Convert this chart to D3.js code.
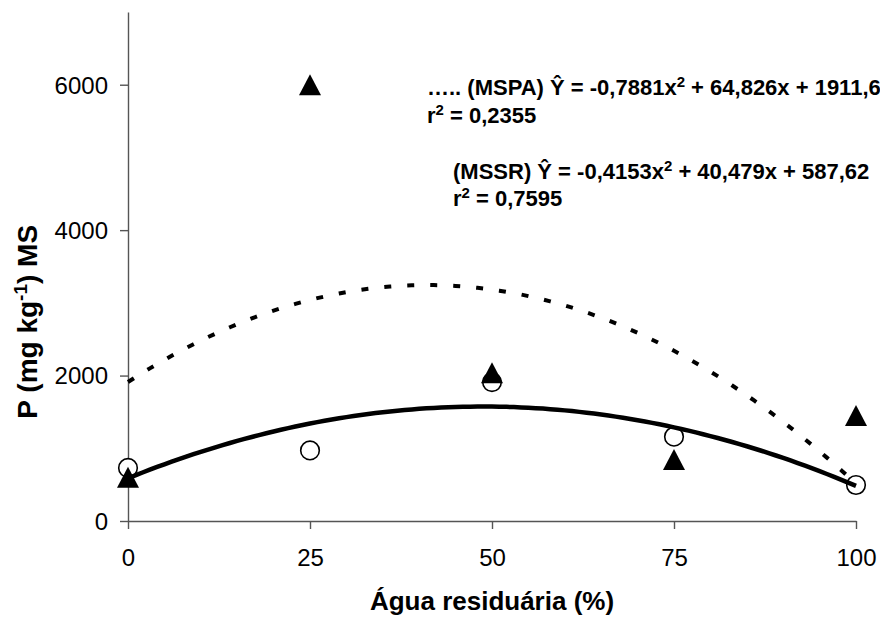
<!DOCTYPE html>
<html>
<head>
<meta charset="utf-8">
<script src="https://cdn.jsdelivr.net/npm/d3@7"></script>
<style>
  body { margin: 0; background: #fff; }
  text { font-family: "Liberation Sans", Arial, sans-serif; }
</style>
</head>
<body>
<div id="viscontainer"></div>
<script>
const doses = [0, 25, 50, 75, 100];
const mspaValues = [600, 6000, 2040, 845, 1450];
const mssrValues = [730, 970, 1910, 1160, 495];
// trendline coefficients [a, b, c] for a*x^2 + b*x + c
const mspaFit = [-0.7881, 64.826, 1911.6];
const mssrFit = [-0.4153, 40.479, 587.62];
const xTicks = [0, 25, 50, 75, 100];
const yTicks = [0, 2000, 4000, 6000];

function makeVis() {
  const width = 880;
  const height = 621;
  const marginLeft = 128;
  const marginRight = 24;
  const marginTop = 12;
  const marginBottom = 100;

  const svg = d3.create("svg").attr("width", width).attr("height", height);
  viscontainer.append(svg.node());

  const xScale = d3.scaleLinear().domain([0, 100]).range([marginLeft, width - marginRight]);
  const yScale = d3.scaleLinear().domain([0, 7000]).range([height - marginBottom, marginTop]);

  // axes
  const xAxis = svg.append("g")
    .attr("transform", `translate(0, ${yScale(0)})`)
    .call(d3.axisBottom(xScale).tickValues(xTicks).tickSize(8).tickPadding(20).tickSizeOuter(0));
  const yAxis = svg.append("g")
    .attr("transform", `translate(${xScale(0)}, 0)`)
    .call(d3.axisLeft(yScale).tickValues(yTicks).tickFormat(d3.format("d"))
      .tickSize(8).tickPadding(12).tickSizeOuter(0));

  [xAxis, yAxis].forEach((ax) => {
    ax.selectAll("path, line").attr("stroke", "#555").attr("stroke-width", 1.4);
    ax.selectAll("text").attr("font-size", 24).attr("fill", "#000")
      .style("font-family", '"Liberation Sans", Arial, sans-serif');
  });
  yAxis.selectAll("text").attr("dy", "0.35em");

  // axis titles
  svg.append("text")
    .attr("x", xScale(50))
    .attr("y", 610)
    .attr("text-anchor", "middle")
    .attr("font-size", 26)
    .attr("font-weight", "bold")
    .text("Água residuária (%)");

  const yTitle = svg.append("text")
    .attr("transform", `translate(37, ${yScale(2740)}) rotate(-90)`)
    .attr("text-anchor", "middle")
    .attr("font-size", 28)
    .attr("font-weight", "bold");
  yTitle.append("tspan").text("P (mg kg");
  yTitle.append("tspan").attr("font-size", 19).attr("baseline-shift", "super").text("-1");
  yTitle.append("tspan").text(") MS");

  // trendlines
  const xs = d3.range(0, 100.01, 1);
  const poly = (c) => (x) => c[0] * x * x + c[1] * x + c[2];
  const line = d3.line().x((d) => xScale(d[0])).y((d) => yScale(d[1]));

  // markers
  svg.append("g").selectAll("circle")
    .data(doses.map((d, i) => [d, mssrValues[i]]))
    .join("circle")
    .attr("cx", (d) => xScale(d[0]))
    .attr("cy", (d) => yScale(d[1]))
    .attr("r", 9.3)
    .attr("fill", "#fff")
    .attr("stroke", "#000")
    .attr("stroke-width", 1.6);

  svg.append("path")
    .datum(xs.map((x) => [x, poly(mssrFit)(x)]))
    .attr("d", line)
    .attr("fill", "none")
    .attr("stroke", "#000")
    .attr("stroke-width", 4.5);

  svg.append("path")
    .datum(xs.map((x) => [x, poly(mspaFit)(x)]))
    .attr("d", line)
    .attr("fill", "none")
    .attr("stroke", "#000")
    .attr("stroke-width", 4)
    .attr("stroke-dasharray", "7 16");

  // triangle marker, 22 wide and 21 tall, centred on its box
  const triangle = {
    draw(ctx) {
      ctx.moveTo(0, -10.5);
      ctx.lineTo(11, 10.5);
      ctx.lineTo(-11, 10.5);
      ctx.closePath();
    }
  };
  svg.append("g").selectAll("path")
    .data(doses.map((d, i) => [d, mspaValues[i]]))
    .join("path")
    .attr("transform", (d) => `translate(${xScale(d[0])}, ${yScale(d[1])})`)
    .attr("d", d3.symbol().type(triangle))
    .attr("fill", "#000");

  // equations
  const eqs = [
    { x: 427, y: 95, parts: ["….. (MSPA) Ŷ = -0,7881x", "2", " + 64,826x + 1911,6"] },
    { x: 427, y: 123, parts: ["r", "2", " = 0,2355"] },
    { x: 453, y: 179, parts: ["(MSSR) Ŷ = -0,4153x", "2", " + 40,479x + 587,62"] },
    { x: 453, y: 206, parts: ["r", "2", " = 0,7595"] },
  ];
  eqs.forEach((e) => {
    const t = svg.append("text")
      .attr("x", e.x)
      .attr("y", e.y)
      .attr("font-size", 22)
      .attr("font-weight", "bold");
    e.parts.forEach((p, i) => {
      const s = t.append("tspan").text(p);
      if (i === 1) s.attr("font-size", 15).attr("baseline-shift", "super");
    });
  });
}

makeVis();
</script>
</body>
</html>
